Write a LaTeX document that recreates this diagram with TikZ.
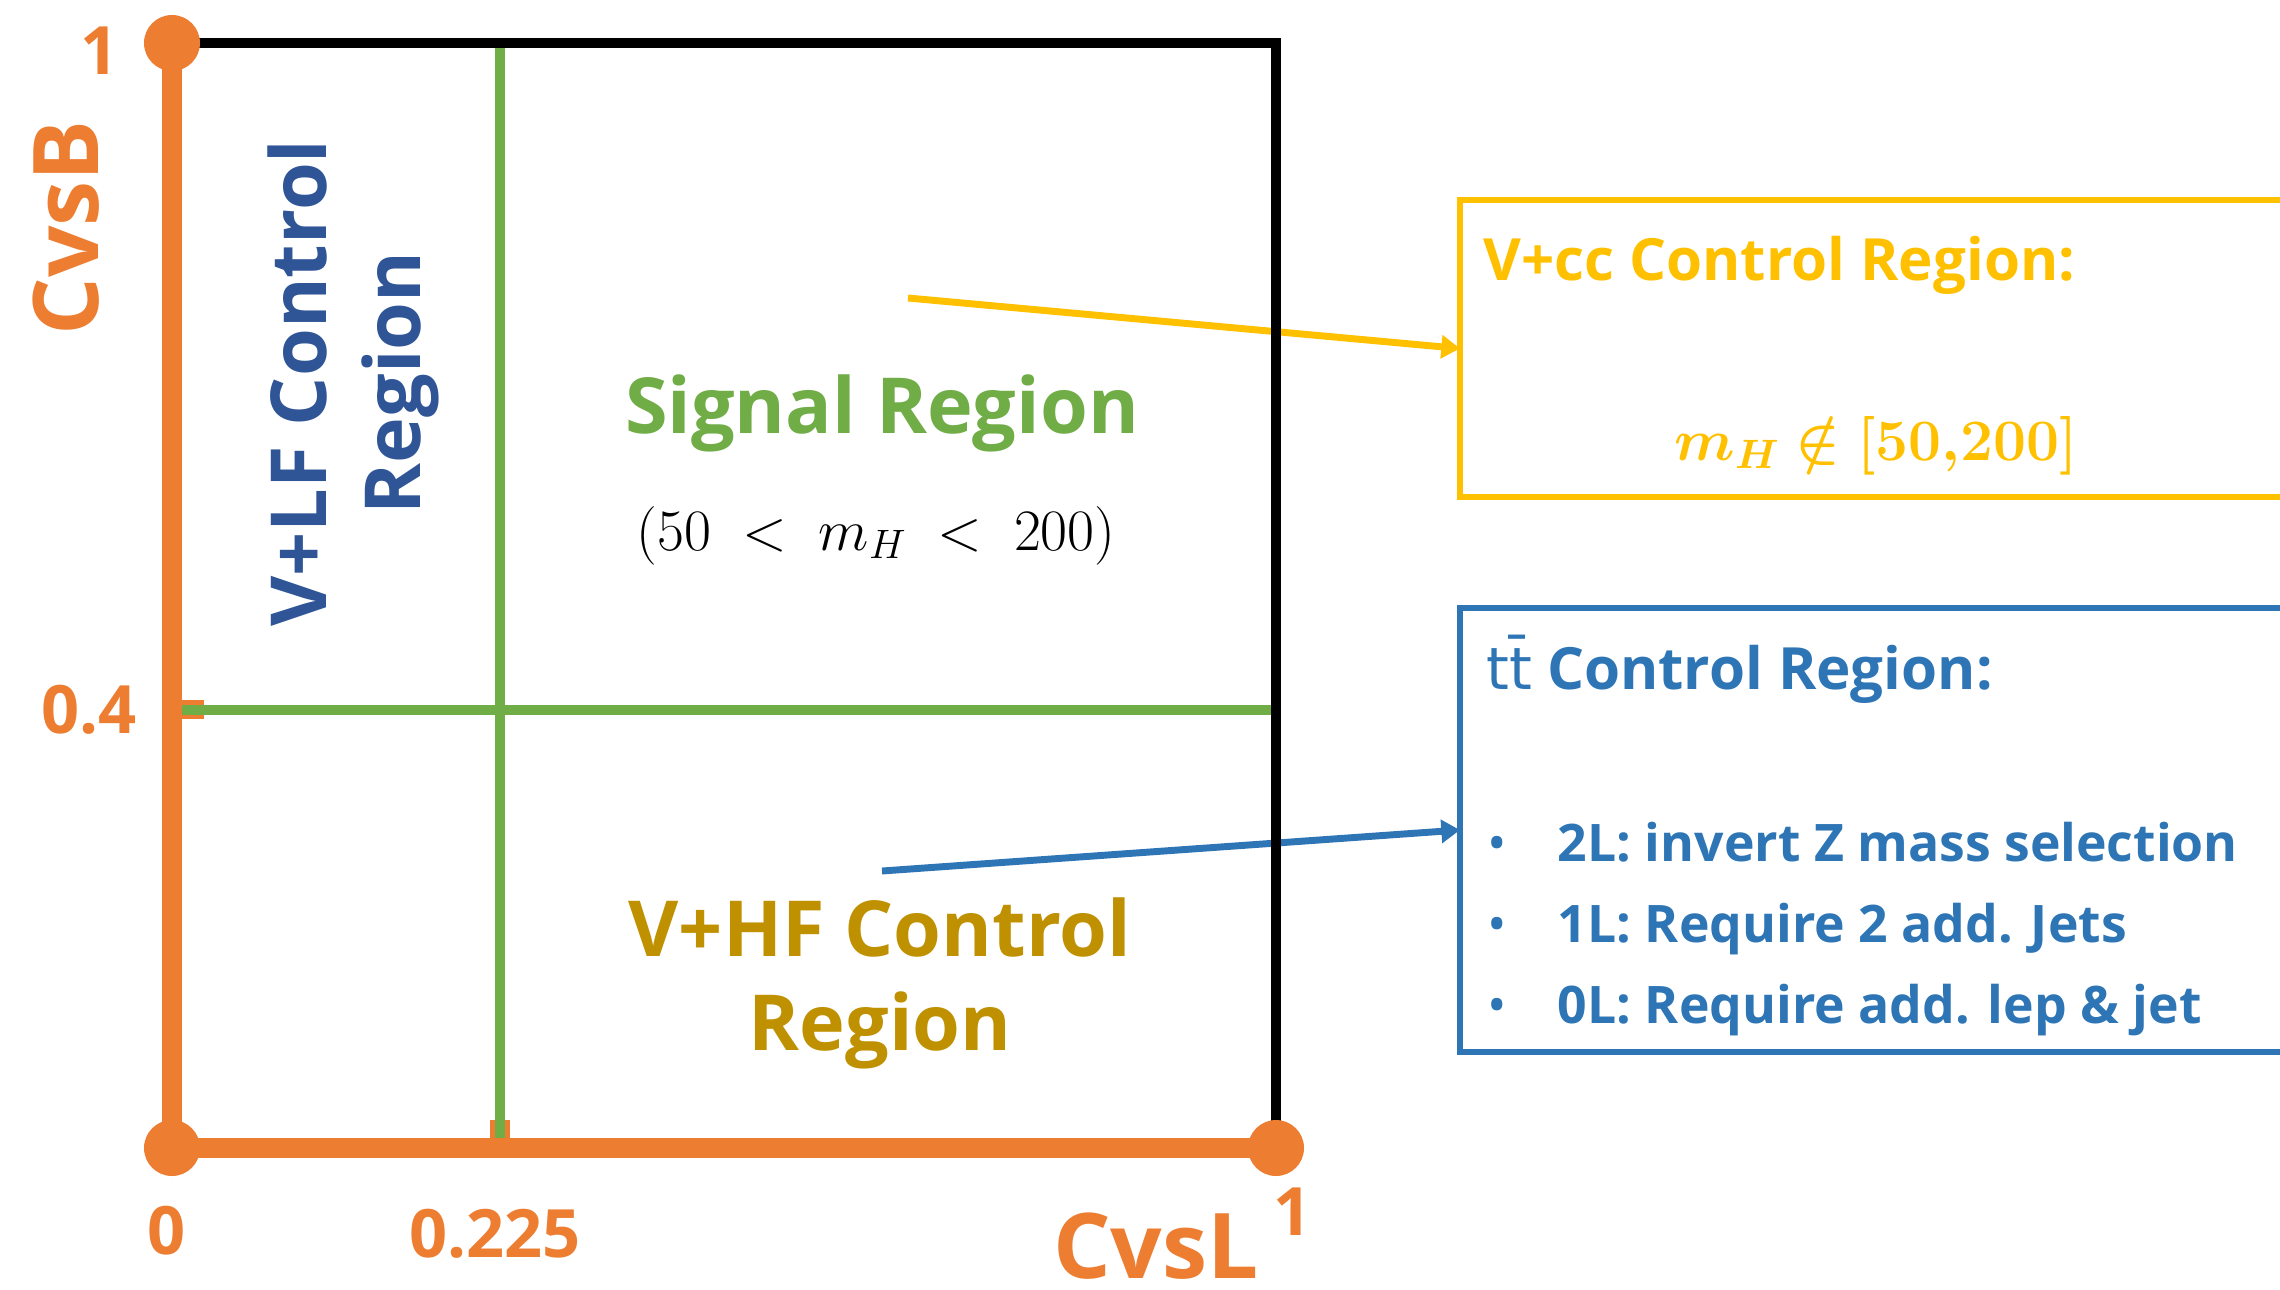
\RequirePackage{fix-cm}
\documentclass[tikz,border=0pt]{standalone}
\usepackage[no-math]{fontspec}
\setmainfont{Open Sans}
\newfontfamily\markfont{DejaVu Sans}
\usepackage{amsmath,amssymb}
\usepackage{bm}
\usepackage{tikz}
\usetikzlibrary{arrows.meta}

\definecolor{cvsorange}{RGB}{237,125,49}
\definecolor{srgreen}{RGB}{112,173,71}
\definecolor{ccyellow}{RGB}{255,192,0}
\definecolor{ttblue}{RGB}{46,117,182}
\definecolor{lfblue}{RGB}{47,85,151}
\definecolor{hfgold}{RGB}{191,144,0}

\tikzset{
    axisline/.style={draw=cvsorange, line width=14.6pt},
    gridline/.style={draw=srgreen, line width=6.8pt},
    ticklabel/.style={text=cvsorange, inner sep=0pt, font=\fontsize{50}{60}\selectfont\bfseries},
    axislabel/.style={text=cvsorange, inner sep=0pt, font=\fontsize{68}{80}\selectfont\bfseries},
    regionlabel/.style={inner sep=0pt, align=center, font=\fontsize{58}{70}\selectfont\bfseries},
    crbox/.style={draw, line width=4.5pt, anchor=north west, outer sep=0pt, inner sep=0pt, minimum width=700pt},
    pointer/.style={line width=5.2pt, -{Triangle[length=14pt,width=17pt]}},
}

\begin{document}
\begin{tikzpicture}[x=0.75pt,y=0.75pt,yscale=-1,xscale=1]
    \useasboundingbox (0,0) rectangle (2280,1289);
    \clip (0,0) rectangle (2280,1289);

    %Shape: Rectangle
    \draw (1460,200) node (ccbox) [crbox, draw=ccyellow, minimum height=222.75pt] {};
    %Shape: Rectangle
    \draw (1460,608) node (ttbox) [crbox, draw=ttblue, minimum height=333pt] {};

    %Straight Lines (ticks)
    \draw [axisline] (172,709.5) -- (204,709.5) ;
    \draw [axisline] (500,1148) -- (500,1120) ;
    %Straight Lines (cuts)
    \draw [gridline] (172,710) -- (1276,710) ;
    \draw [gridline] (500,43) -- (500,1148) ;

    %Straight Lines (pointers)
    \coordinate (ccfrom) at (908,298);
    \coordinate (ttfrom) at (882,871);
    \draw [pointer, ccyellow] (ccfrom) -- (ccbox.west) ;
    \draw [pointer, ttblue] (ttfrom) -- (ttbox.west) ;

    %Straight Lines (frame)
    \draw [line width=7.5pt] (172,43) -- (1276,43) -- (1276,1148) ;
    %Straight Lines (axes)
    \draw [axisline] (172,43) -- (172,1148) -- (1276,1148) ;
    %Shape: Circle
    \fill [cvsorange] (172,43) circle (28) ;
    \fill [cvsorange] (172,1148) circle (28) ;
    \fill [cvsorange] (1276,1148) circle (28) ;

    % Text Node
    \draw (100,74) node (ytop) [ticklabel, anchor=base] {1};
    % Text Node
    \draw (137,733) node (ycut) [ticklabel, anchor=base east] {0.4};
    % Text Node
    \draw (167,1254) node (zero) [ticklabel, anchor=base] {0};
    % Text Node
    \draw (495,1257) node (xcut) [ticklabel, anchor=base] {0.225};
    % Text Node
    \draw (1293,1235) node (xtop) [ticklabel, anchor=base] {1};
    % Text Node
    \draw (98,228) node (cvsb) [axislabel, rotate=90, anchor=base] {CvsB};
    % Text Node
    \draw (1156,1278) node (cvsl) [axislabel, anchor=base] {CvsL};

    % Text Node
    \draw (420,383) node (lf) [regionlabel, text=lfblue, rotate=90, anchor=base] {V+LF Control\\Region};
    % Text Node
    \draw (882,433) node (sr) [regionlabel, text=srgreen, anchor=base] {Signal Region};
    % Text Node
    \draw (876,550) node (srmass) [anchor=base, inner sep=0pt, font=\fontsize{44}{50}\selectfont] {$(50\ <\ m_H\ <\ 200)$};
    % Text Node
    \draw (880,1050) node (hf) [regionlabel, text=hfgold, anchor=base] {V+HF Control\\Region};

    % Text Node
    \draw (1483,280) node (cctitle) [anchor=base west, inner sep=0pt, text=ccyellow, font=\fontsize{43.7}{54}\selectfont\bfseries] {V+cc Control Region:};
    % Text Node
    \draw (1876,460) node (ccmass) [anchor=base, inner sep=0pt, text=ccyellow, font=\fontsize{44}{50}\selectfont] {$\bm{m_H \notin {[}50{,}200{]}}$};
    % Text Node
    \draw (1486,689) node (tttitle) [anchor=base west, inner sep=0pt, text=ttblue, font=\fontsize{43.7}{54}\selectfont\bfseries] {{\markfont\mdseries tt̄} Control Region:};
    % Text Node
    \draw (1487,1023) node (ttlist) [anchor=base west, inner sep=0pt, align=left, text=ttblue, font=\fontsize{38.8}{60.4}\selectfont\bfseries] {\makebox[53pt][l]{\mdseries\textbullet}2L: invert Z mass selection\\
            \makebox[53pt][l]{\mdseries\textbullet}1L: Require 2 add. Jets\\
            \makebox[53pt][l]{\mdseries\textbullet}0L: Require add. lep \& jet};

\end{tikzpicture}
\end{document}
